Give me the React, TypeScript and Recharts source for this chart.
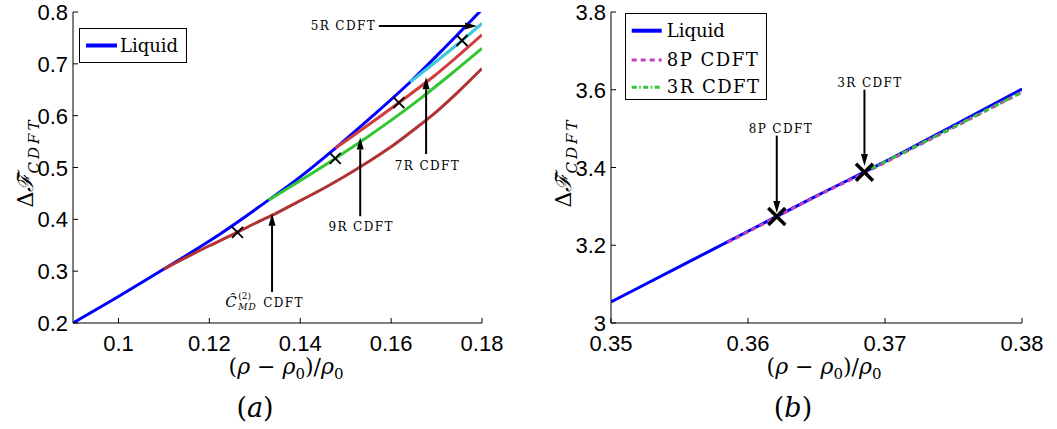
import React from "react";
import { ComposedChart, Line, Scatter, XAxis, YAxis, ReferenceLine, ReferenceDot } from "recharts";

// ---------------- Panel (a) data ----------------
const liquidAX = [0.09, 0.1, 0.11, 0.12, 0.133, 0.14, 0.1477, 0.156, 0.1642, 0.172, 0.18];
const liquidAY = [0.2, 0.251, 0.304, 0.358, 0.437, 0.482, 0.537, 0.6, 0.665, 0.733, 0.805];
const cmdX = [0.11, 0.115, 0.12, 0.125, 0.13, 0.135, 0.14, 0.145, 0.15, 0.155, 0.16, 0.165, 0.17, 0.175, 0.18];
const cmdY = [0.304, 0.327, 0.349, 0.37, 0.392, 0.413, 0.436, 0.459, 0.484, 0.511, 0.54, 0.573, 0.608, 0.648, 0.691];
const r9X = [0.133, 0.1477, 0.1543, 0.166, 0.173, 0.18];
const r9Y = [0.437, 0.5175, 0.556, 0.63, 0.679, 0.73];
const r7X = [0.1477, 0.1617, 0.1694, 0.18];
const r7Y = [0.537, 0.625, 0.676, 0.756];
const r5X = [0.1642, 0.1756, 0.18];
const r5Y = [0.665, 0.745, 0.778];
const crossAX = [0.1262, 0.1477, 0.1617, 0.1756];
const crossAY = [0.375, 0.5175, 0.625, 0.745];

const ticksAX = [0.1, 0.12, 0.14, 0.16, 0.18];
const labelsAX = ["0.1", "0.12", "0.14", "0.16", "0.18"];
const ticksAY = [0.2, 0.3, 0.4, 0.5, 0.6, 0.7, 0.8];
const labelsAY = ["0.2", "0.3", "0.4", "0.5", "0.6", "0.7", "0.8"];

// arrows: tail (x1,y1) -> head (x2,y2); text at (tx,ty)
const annotA = [
  { text: "5R CDFT", tx: 0.1495, ty: 0.773, x1: 0.1573, y1: 0.773, x2: 0.1789, y2: 0.773 },
  { text: "7R CDFT", tx: 0.168, ty: 0.5045, x1: 0.1677, y1: 0.526, x2: 0.1677, y2: 0.674 },
  { text: "9R CDFT", tx: 0.1534, ty: 0.3854, x1: 0.1532, y1: 0.406, x2: 0.1532, y2: 0.558 },
  { text: "CMD", tx: 0.1322, ty: 0.24, x1: 0.1338, y1: 0.26, x2: 0.1338, y2: 0.411 },
];

// ---------------- Panel (b) data ----------------
const liquidBX = [0.35, 0.355, 0.36, 0.365, 0.37, 0.375, 0.38];
const liquidBY = [3.054, 3.145, 3.236, 3.327, 3.415, 3.508, 3.602];
const p8X = [0.3585, 0.3621, 0.365, 0.3685, 0.372, 0.376, 0.38];
const p8Y = [3.207, 3.273, 3.326, 3.386, 3.449, 3.521, 3.594];
const r3X = [0.369, 0.372, 0.376, 0.38];
const r3Y = [3.397, 3.45, 3.522, 3.594];
const crossBX = [0.3621, 0.3685];
const crossBY = [3.274, 3.388];

const ticksBX = [0.35, 0.36, 0.37, 0.38];
const labelsBX = ["0.35", "0.36", "0.37", "0.38"];
const ticksBY = [3, 3.2, 3.4, 3.6, 3.8];
const labelsBY = ["3", "3.2", "3.4", "3.6", "3.8"];

const annotB = [
  { text: "8P CDFT", tx: 0.3624, ty: 3.5, x1: 0.3621, y1: 3.482, x2: 0.3621, y2: 3.283 },
  { text: "3R CDFT", tx: 0.3689, ty: 3.618, x1: 0.3685, y1: 3.6, x2: 0.3685, y2: 3.404 },
];

// ---------------- styles ----------------
const SANS = '"Liberation Sans", Arial, sans-serif';
const SERIF = '"DejaVu Serif", serif';
const TICK_LEN = 5;
const TM = 5;

const pts = (xs: number[], ys: number[]) => xs.map((x, i) => ({ x, y: ys[i] }));

const lookup = (ticks: number[], labels: string[], v: number) => {
  const i = ticks.indexOf(v);
  return i >= 0 ? labels[i] : String(v);
};

const makeLeftTick = (ticks: number[], labels: string[]) => (p: any) => {
  const ax = p.x + TM;
  return (
    <g>
      <line x1={ax} x2={ax + TICK_LEN} y1={p.y} y2={p.y} stroke="#000" strokeWidth={1} />
      <text x={p.x} y={p.y} dy={8} textAnchor="end" fontFamily={SANS} fontSize={22} fill="#000">
        {lookup(ticks, labels, p.payload.value)}
      </text>
    </g>
  );
};
const makeBottomTick = (ticks: number[], labels: string[]) => (p: any) => {
  const ay = p.y - TM;
  return (
    <g>
      <line x1={p.x} x2={p.x} y1={ay} y2={ay - TICK_LEN} stroke="#000" strokeWidth={1} />
      <text x={p.x} y={p.y} dy={23} textAnchor="middle" fontFamily={SANS} fontSize={22} fill="#000">
        {lookup(ticks, labels, p.payload.value)}
      </text>
    </g>
  );
};
const TopTick = (p: any) => (
  <line x1={p.x} x2={p.x} y1={p.y} y2={p.y + TICK_LEN} stroke="#000" strokeWidth={1} />
);
const RightTick = (p: any) => (
  <line x1={p.x} x2={p.x - TICK_LEN} y1={p.y} y2={p.y} stroke="#000" strokeWidth={1} />
);

const makeXLabel = (title: string) => (props: any) => {
  const vb = props.viewBox || { x: 0, y: 0 };
  const x0 = vb.x;
  const y0 = vb.y;
  return (
    <g>
      <text x={x0 + 213} y={y0 + 51} textAnchor="middle" fontFamily={SERIF} fontSize={22} fill="#000">
        {"("}
        <tspan fontStyle="italic">ρ</tspan>
        {" \u2212 "}
        <tspan fontStyle="italic">ρ</tspan>
        <tspan fontSize={15} dy={5}>0</tspan>
        <tspan dy={-5}>{")/"}</tspan>
        <tspan fontStyle="italic">ρ</tspan>
        <tspan fontSize={15} dy={5}>0</tspan>
      </text>
      <text x={x0 + 182} y={y0 + 94} textAnchor="middle" fontFamily={SERIF} fontSize={27} fill="#000">
        {"("}
        <tspan fontStyle="italic">{title}</tspan>
        {")"}
      </text>
    </g>
  );
};

const YLabel = (props: any) => {
  const vb = props.viewBox || { x: 0, y: 0, width: 0, height: 0 };
  const bx = vb.x + vb.width - 40;
  const cy = vb.y + vb.height / 2 - 5;
  return (
    <text
      transform={`rotate(-90 ${bx} ${cy})`}
      x={bx}
      y={cy}
      textAnchor="middle"
      fontFamily={SERIF}
      fontSize={22}
      fill="#000"
    >
      {"Δ"}
      <tspan fontStyle="italic">{"\u2131\u0303"}</tspan>
      <tspan fontSize={15} fontStyle="italic" letterSpacing={3} dy={6}>CDFT</tspan>
    </text>
  );
};

const Arrow = (p: any) => {
  const { x1, y1, x2, y2 } = p;
  const dx = x2 - x1;
  const dy = y2 - y1;
  const len = Math.hypot(dx, dy) || 1;
  const ux = dx / len;
  const uy = dy / len;
  const hl = 12;
  const hw = 3.5;
  const bx = x2 - ux * hl;
  const by = y2 - uy * hl;
  return (
    <g>
      <line x1={x1} y1={y1} x2={bx} y2={by} stroke="#000" strokeWidth={2} />
      <polygon
        points={`${x2},${y2} ${bx - uy * hw},${by + ux * hw} ${bx + uy * hw},${by - ux * hw}`}
        fill="#000"
      />
    </g>
  );
};

const makeTextShape = (text: string) => (p: any) => {
  const { cx, cy } = p;
  if (text === "CMD") {
    const l = cx - 39.5;
    return (
      <g fontFamily={SERIF} fill="#000">
        <text x={l} y={cy + 5} fontSize={15} fontStyle="italic">{"\u0108"}</text>
        <text x={l + 13} y={cy - 3} fontSize={9}>(2)</text>
        <text x={l + 13} y={cy + 8} fontSize={9} fontStyle="italic" letterSpacing={1}>MD</text>
        <text x={l + 38} y={cy + 5} fontSize={12} letterSpacing={1.4}>CDFT</text>
      </g>
    );
  }
  return (
    <text x={cx} y={cy} dy={4.5} textAnchor="middle" fontFamily={SERIF} fontSize={12} letterSpacing={1.4} fill="#000">
      {text}
    </text>
  );
};

const makeCross = (h: number, sw: number) => (p: any) => {
  const { cx, cy } = p;
  return (
    <g stroke="#000" strokeWidth={sw}>
      <line x1={cx - h} y1={cy - h} x2={cx + h} y2={cy + h} />
      <line x1={cx - h} y1={cy + h} x2={cx + h} y2={cy - h} />
    </g>
  );
};

const BLUE = "#0000FF";
const CMD_RED = "#B03232";
const RED7 = "#D23C3C";
const GREEN = "#33C633";
const CYAN = "#3CC8DC";
const MAGENTA = "#C040C0";

const PanelA = () => (
  <ComposedChart width={530} height={429} margin={{ top: 12, right: 48, bottom: 0, left: 0 }}>
    <XAxis
      dataKey="x"
      type="number"
      domain={[0.09, 0.18]}
      ticks={ticksAX}
      allowDataOverflow
      interval={0}
      height={106}
      tickSize={0}
      tickMargin={TM}
      tick={makeBottomTick(ticksAX, labelsAX)}
      axisLine={{ stroke: "#000" }}
      label={makeXLabel("a")}
    />
    <XAxis
      xAxisId="top"
      orientation="top"
      dataKey="x"
      type="number"
      domain={[0.09, 0.18]}
      ticks={ticksAX}
      allowDataOverflow
      interval={0}
      height={0}
      tickSize={0}
      tickMargin={0}
      tick={TopTick}
      axisLine={{ stroke: "#000" }}
    />
    <YAxis
      type="number"
      domain={[0.2, 0.8]}
      ticks={ticksAY}
      allowDataOverflow
      interval={0}
      width={73}
      tickSize={0}
      tickMargin={TM}
      tick={makeLeftTick(ticksAY, labelsAY)}
      axisLine={{ stroke: "#000" }}
      label={YLabel}
    />
    <YAxis
      yAxisId="right"
      orientation="right"
      type="number"
      domain={[0.2, 0.8]}
      ticks={ticksAY}
      allowDataOverflow
      interval={0}
      width={0}
      tickSize={0}
      tickMargin={0}
      tick={RightTick}
      axisLine={{ stroke: "#000" }}
    />
    <Line data={pts(liquidAX, liquidAY)} dataKey="y" type="monotone" stroke={BLUE} strokeWidth={3} dot={false} isAnimationActive={false} />
    <Line data={pts(cmdX, cmdY)} dataKey="y" type="monotone" stroke={CMD_RED} strokeWidth={3} dot={false} isAnimationActive={false} />
    <Line data={pts(r9X, r9Y)} dataKey="y" type="monotone" stroke={GREEN} strokeWidth={3} dot={false} isAnimationActive={false} />
    <Line data={pts(r7X, r7Y)} dataKey="y" type="monotone" stroke={RED7} strokeWidth={3} dot={false} isAnimationActive={false} />
    <Line data={pts(r5X, r5Y)} dataKey="y" type="monotone" stroke={CYAN} strokeWidth={3} dot={false} isAnimationActive={false} />
    <Scatter data={pts(crossAX, crossAY)} dataKey="y" shape={makeCross(5.5, 1.8)} isAnimationActive={false} />
    {annotA.map((a, i) => (
      <ReferenceLine key={"al" + i} segment={[{ x: a.x1, y: a.y1 }, { x: a.x2, y: a.y2 }]} shape={Arrow} ifOverflow="visible" />
    ))}
    {annotA.map((a, i) => (
      <ReferenceDot key={"at" + i} x={a.tx} y={a.ty} r={0} shape={makeTextShape(a.text)} ifOverflow="visible" />
    ))}
  </ComposedChart>
);

const PanelB = () => (
  <ComposedChart width={527} height={429} margin={{ top: 12, right: 35, bottom: 0, left: 0 }}>
    <XAxis
      dataKey="x"
      type="number"
      domain={[0.35, 0.38]}
      ticks={ticksBX}
      allowDataOverflow
      interval={0}
      height={106}
      tickSize={0}
      tickMargin={TM}
      tick={makeBottomTick(ticksBX, labelsBX)}
      axisLine={{ stroke: "#000" }}
      label={makeXLabel("b")}
    />
    <XAxis
      xAxisId="top"
      orientation="top"
      dataKey="x"
      type="number"
      domain={[0.35, 0.38]}
      ticks={ticksBX}
      allowDataOverflow
      interval={0}
      height={0}
      tickSize={0}
      tickMargin={0}
      tick={TopTick}
      axisLine={{ stroke: "#000" }}
    />
    <YAxis
      type="number"
      domain={[3, 3.8]}
      ticks={ticksBY}
      allowDataOverflow
      interval={0}
      width={81}
      tickSize={0}
      tickMargin={TM}
      tick={makeLeftTick(ticksBY, labelsBY)}
      axisLine={{ stroke: "#000" }}
      label={YLabel}
    />
    <YAxis
      yAxisId="right"
      orientation="right"
      type="number"
      domain={[3, 3.8]}
      ticks={ticksBY}
      allowDataOverflow
      interval={0}
      width={0}
      tickSize={0}
      tickMargin={0}
      tick={RightTick}
      axisLine={{ stroke: "#000" }}
    />
    <Line data={pts(liquidBX, liquidBY)} dataKey="y" type="monotone" stroke={BLUE} strokeWidth={3} dot={false} isAnimationActive={false} />
    <Line data={pts(p8X, p8Y)} dataKey="y" type="monotone" stroke={MAGENTA} strokeWidth={3} strokeDasharray="5 4" dot={false} isAnimationActive={false} />
    <Line data={pts(r3X, r3Y)} dataKey="y" type="monotone" stroke={GREEN} strokeWidth={3} strokeDasharray="5 2.5 1.5 2.5" dot={false} isAnimationActive={false} />
    <Scatter data={pts(crossBX, crossBY)} dataKey="y" shape={makeCross(8.5, 3.5)} isAnimationActive={false} />
    {annotB.map((a, i) => (
      <ReferenceLine key={"bl" + i} segment={[{ x: a.x1, y: a.y1 }, { x: a.x2, y: a.y2 }]} shape={Arrow} ifOverflow="visible" />
    ))}
    {annotB.map((a, i) => (
      <ReferenceDot key={"bt" + i} x={a.tx} y={a.ty} r={0} shape={makeTextShape(a.text)} ifOverflow="visible" />
    ))}
  </ComposedChart>
);

const legendA = [{ name: "Liquid", color: BLUE, dash: "" }];
const legendB = [
  { name: "Liquid", color: BLUE, dash: "" },
  { name: "8P CDFT", color: MAGENTA, dash: "5 4" },
  { name: "3R CDFT", color: GREEN, dash: "5 2.5 1.5 2.5" },
];

const LegendBox = ({ items, left, top, width, height, rowY, sx1, sx2, tx }: any) => (
  <svg style={{ position: "absolute", left, top }} width={width} height={height}>
    <rect x={0.5} y={0.5} width={width - 1} height={height - 1} fill="#fff" stroke="#000" strokeWidth={1} />
    {items.map((it: any, i: number) => (
      <g key={it.name}>
        <line x1={sx1} x2={sx2} y1={rowY[i]} y2={rowY[i]} stroke={it.color} strokeWidth={it.dash ? 3 : 4} strokeDasharray={it.dash || undefined} />
        <text x={tx} y={rowY[i]} dy={6} fontFamily={SERIF} fontSize={18} letterSpacing={it.name === "Liquid" ? 0 : 1.5} fill="#000">
          {it.name}
        </text>
      </g>
    ))}
  </svg>
);

export default function App() {
  return (
    <div style={{ position: "relative", width: 1057, height: 429, background: "#fff" }}>
      <style>{"body{margin:0;background:#fff}"}</style>
      <div style={{ position: "absolute", left: 0, top: 0 }}>
        <PanelA />
        <LegendBox items={legendA} left={79} top={28} width={108} height={35} rowY={[17.5]} sx1={7} sx2={38} tx={41} />
      </div>
      <div style={{ position: "absolute", left: 530, top: 0 }}>
        <PanelB />
        <LegendBox items={legendB} left={95} top={13} width={142} height={87} rowY={[17.7, 47, 74.3]} sx1={6.7} sx2={36.7} tx={41.7} />
      </div>
    </div>
  );
}
